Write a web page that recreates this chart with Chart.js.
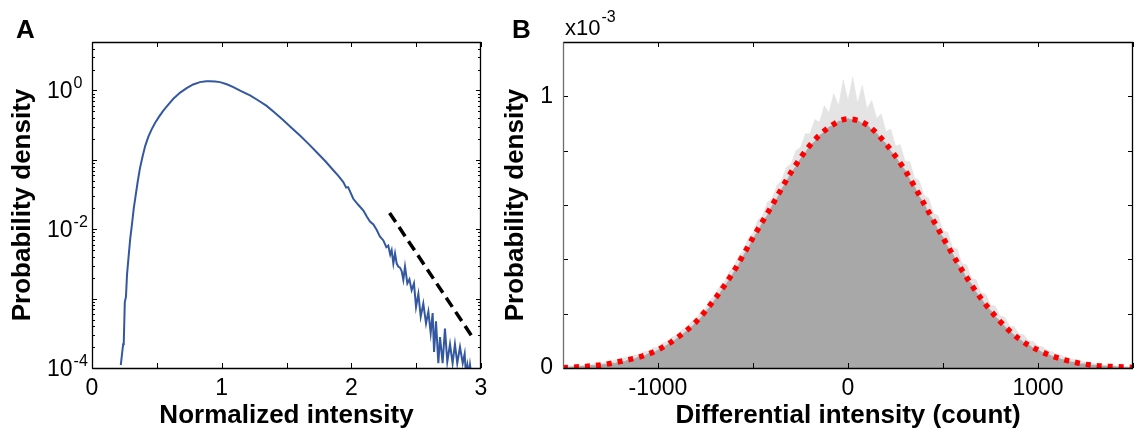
<!DOCTYPE html>
<html>
<head>
<meta charset="utf-8">
<script src="https://cdn.jsdelivr.net/npm/chart.js@4.4.1/dist/chart.umd.min.js"></script>
<style>
  html, body { margin: 0; padding: 0; background: #fff; }
  #wrap { position: relative; width: 1140px; height: 437px; overflow: hidden; }
  #wa { position: absolute; left: 0; top: 0; width: 500px; height: 437px; }
  #wb { position: absolute; left: 500px; top: 0; width: 640px; height: 437px; }
</style>
</head>
<body>
<div id="wrap">
  <div id="wa"><canvas id="ca" width="500" height="437"></canvas></div>
  <div id="wb"><canvas id="cb" width="640" height="437"></canvas></div>
</div>
<script>
// ---------------- Panel A data ----------------
const intensityX = [0.222,0.240,0.245,0.253,0.262,0.270,0.282,0.295,0.308,0.322,0.336,0.352,0.370,0.390,0.410,0.434,0.460,0.486,0.520,0.550,0.590,0.627,0.680,0.730,0.780,0.833,0.880,0.910,0.950,0.987,1.040,1.090,1.150,1.219,1.280,1.347,1.410,1.476,1.540,1.604,1.670,1.733,1.800,1.861,1.900,1.938,1.960,1.975,2.015,2.050,2.093,2.120,2.144,2.170,2.195,2.220,2.247,2.270,2.285,2.300,2.311,2.324,2.337,2.350,2.362,2.375,2.388,2.401,2.414,2.432,2.448,2.465,2.483,2.499,2.517,2.535,2.555,2.576,2.594,2.612,2.627,2.638,2.653,2.671,2.684,2.704,2.722,2.740,2.761,2.781,2.799,2.817,2.838,2.859,2.874,2.884,2.895,2.905,2.915,2.925];
const densityA = [1.1e-4,2.2e-4,2.3e-4,8.9e-4,1.07e-3,2.2e-3,4.0e-3,7.4e-3,0.0117,0.020,0.030,0.048,0.076,0.112,0.158,0.214,0.275,0.339,0.427,0.513,0.631,0.759,0.933,1.08,1.22,1.32,1.36,1.36,1.35,1.32,1.23,1.12,0.977,0.85,0.724,0.60,0.479,0.372,0.288,0.224,0.170,0.129,0.0955,0.0708,0.0589,0.0479,0.0398,0.0405,0.0275,0.0229,0.0186,0.0151,0.0129,0.0117,0.0098,0.0079,0.0069,0.0055,0.0058,0.0043,0.0050,0.0032,0.0045,0.0032,0.0029,0.0028,0.0025,0.00186,0.0029,0.00166,0.0019,0.00132,0.00166,0.00076,0.00117,0.00055,0.00085,0.00044,0.00065,0.00032,0.00062,0.00017,0.00047,0.000117,0.00028,0.000117,0.00037,0.000123,0.00022,0.000117,0.00022,0.000117,0.0002,0.000117,0.00016,0.00008,0.00011,0.00008,0.000112,0.00008];
const slopeX = [2.295, 2.938];
const slopeY = [0.0172, 2.72e-4];
const xTicksA = [0, 0.5, 1, 1.5, 2, 2.5, 3];
const xLabelsA = ['0', '', '1', '', '2', '', '3'];
const yLabelExpA = [-4, -2, 0];

// ---------------- Panel B data (units of 1e-3) ----------------
const binStart = -1500, binStep = 25;
const histB = [0.003,0.002,0.004,0.003,0.006,0.005,0.009,0.008,0.012,0.013,0.018,0.017,0.025,0.024,0.032,0.033,0.041,0.043,0.053,0.056,0.066,0.074,0.086,0.095,0.109,0.121,0.136,0.150,0.168,0.184,0.207,0.226,0.252,0.274,0.302,0.325,0.354,0.380,0.414,0.441,0.476,0.503,0.536,0.561,0.596,0.622,0.658,0.684,0.718,0.741,0.770,0.792,0.819,0.834,0.856,0.868,0.887,0.893,0.908,0.910,0.918,0.912,0.911,0.900,0.896,0.876,0.865,0.841,0.826,0.798,0.779,0.749,0.729,0.693,0.668,0.630,0.606,0.568,0.543,0.505,0.481,0.445,0.421,0.385,0.361,0.329,0.309,0.278,0.257,0.230,0.213,0.189,0.173,0.152,0.138,0.120,0.108,0.094,0.086,0.073,0.067,0.056,0.052,0.042,0.039,0.031,0.029,0.022,0.021,0.015,0.015,0.010,0.010,0.007,0.007,0.005,0.005,0.003,0.003,0.002,0.002];
const histFuzzB = [0.006,0.010,0.006,0.012,0.009,0.015,0.012,0.020,0.016,0.024,0.022,0.030,0.030,0.040,0.038,0.048,0.048,0.060,0.062,0.075,0.076,0.093,0.096,0.115,0.120,0.142,0.148,0.172,0.180,0.208,0.220,0.252,0.266,0.302,0.318,0.356,0.372,0.414,0.432,0.478,0.496,0.545,0.560,0.610,0.622,0.672,0.690,0.738,0.752,0.800,0.812,0.862,0.862,0.915,0.905,0.965,0.940,1.010,0.965,1.060,0.985,1.070,0.975,1.040,0.955,0.985,0.920,0.935,0.870,0.880,0.818,0.822,0.762,0.760,0.700,0.690,0.636,0.625,0.570,0.560,0.505,0.500,0.445,0.438,0.385,0.380,0.330,0.325,0.278,0.272,0.232,0.228,0.192,0.188,0.155,0.152,0.124,0.122,0.100,0.098,0.080,0.078,0.064,0.060,0.050,0.046,0.038,0.034,0.030,0.026,0.022,0.019,0.016,0.013,0.012,0.010,0.009,0.007,0.006,0.005,0.004];
const fitX = [-1500,-1400,-1300,-1200,-1100,-1000,-900,-800,-700,-600,-500,-400,-300,-200,-100,0,100,200,300,400,500,600,700,800,900,1000,1100,1200,1300,1400,1500];
const fitY = [0.001,0.005,0.011,0.024,0.040,0.067,0.111,0.170,0.255,0.357,0.480,0.598,0.720,0.820,0.886,0.917,0.895,0.825,0.728,0.605,0.480,0.360,0.256,0.172,0.107,0.066,0.038,0.020,0.009,0.005,0.002];
const xLabelsB = {'-1000': '-1000', '0': '0', '1000': '1000'};
const yLabelsB = {'0': '0', '1': '1'};

const FAM = '"Liberation Sans", Arial, Helvetica, sans-serif';

function binX(i) { return binStart + i * binStep; }

// Inward ticks + box frame, plus extra texts
const frameTicks = {
  id: 'frameTicks',
  afterDatasetsDraw(chart, args, o) {
    const {ctx, chartArea: a, scales} = chart;
    const xs = scales.x, ys = scales.y;
    ctx.save();
    ctx.lineWidth = 1;
    ctx.strokeStyle = '#000';
    const xv = o.xTicks || xs.ticks.map(t => t.value);
    xv.forEach(v => {
      const px = Math.round(xs.getPixelForValue(v)) + 0.5;
      ctx.beginPath();
      ctx.moveTo(px, a.bottom); ctx.lineTo(px, a.bottom - o.len);
      ctx.moveTo(px, a.top); ctx.lineTo(px, a.top + o.len);
      ctx.stroke();
    });
    const yv = o.yTicks || ys.ticks.map(t => ({v: t.value, major: true}));
    yv.forEach(t => {
      const py = Math.round(ys.getPixelForValue(t.v)) + 0.5;
      const L = t.major ? o.len : o.minorLen;
      ctx.beginPath();
      ctx.moveTo(a.left, py); ctx.lineTo(a.left + L, py);
      ctx.moveTo(a.right, py); ctx.lineTo(a.right - L, py);
      ctx.stroke();
    });
    // frame
    const l = Math.round(a.left) + 0.5, r = Math.round(a.right) - 0.5;
    const t = Math.round(a.top) + 0.5, b = Math.round(a.bottom) + 0.5;
    ctx.lineWidth = 1.3;
    ctx.strokeStyle = '#000';
    ctx.beginPath(); ctx.moveTo(l, t); ctx.lineTo(r, t); ctx.lineTo(r, b); ctx.lineTo(l, b); ctx.stroke();
    ctx.strokeStyle = o.leftColor || '#000';
    ctx.beginPath(); ctx.moveTo(l, t); ctx.lineTo(l, b); ctx.stroke();
    ctx.restore();
  },
  afterDraw(chart, args, o) {
    const {ctx} = chart;
    ctx.save();
    ctx.fillStyle = '#000';
    ctx.textBaseline = 'alphabetic';
    ctx.textAlign = 'left';
    if (o.panel) {
      ctx.font = 'bold 26px ' + FAM;
      ctx.fillText(o.panel.text, o.panel.x, o.panel.y);
    }
    if (o.logLabels) {
      const ys = chart.scales.y;
      o.logLabels.forEach(e => {
        const py = ys.getPixelForValue(Math.pow(10, e));
        ctx.font = '23px ' + FAM;
        ctx.fillText('10', o.logLabelX, py + 8);
        const w = ctx.measureText('10').width;
        ctx.font = '16px ' + FAM;
        ctx.fillText(String(e), o.logLabelX + w + 1, py - 2);
      });
    }
    if (o.multiplier) {
      ctx.font = '22px ' + FAM;
      ctx.fillText(o.multiplier.base, o.multiplier.x, o.multiplier.y);
      const w = ctx.measureText(o.multiplier.base).width;
      ctx.font = '16px ' + FAM;
      ctx.fillText(o.multiplier.exp, o.multiplier.x + w + 1, o.multiplier.y - 13);
    }
    ctx.restore();
  }
};

// minor/major log ticks for panel A
const logTicksA = [];
for (let e = -4; e <= 0; e++) {
  for (let m = 1; m <= 9; m++) {
    const v = m * Math.pow(10, e);
    if (v <= 5) logTicksA.push({v, major: m === 1});
  }
}

new Chart(document.getElementById('ca'), {
  type: 'line',
  data: {
    datasets: [
      {
        label: 'Normalized intensity PDF',
        data: intensityX.map((x, i) => ({x, y: densityA[i]})),
        borderColor: '#3458a0', borderWidth: 2, pointRadius: 0, tension: 0, fill: false
      },
      {
        label: 'Slope',
        data: slopeX.map((x, i) => ({x, y: slopeY[i]})),
        borderColor: '#000', borderWidth: 3.5, borderDash: [11, 6], borderCapStyle: 'butt',
        pointRadius: 0, fill: false
      }
    ]
  },
  options: {
    responsive: false, animation: false, devicePixelRatio: 1,
    layout: {padding: {left: 0, right: 19, top: 42, bottom: 0}},
    plugins: {
      legend: {display: false}, tooltip: {enabled: false},
      frameTicks: {
        len: 5, minorLen: 3, xTicks: xTicksA, yTicks: logTicksA,
        logLabels: yLabelExpA, logLabelX: 47,
        panel: {text: 'A', x: 16, y: 38}
      }
    },
    scales: {
      x: {
        type: 'linear', min: 0, max: 3,
        afterFit(s) { s.height = 69; },
        afterBuildTicks(s) { s.ticks = xTicksA.map(v => ({value: v})); },
        grid: {display: false, drawTicks: false}, border: {display: false},
        ticks: {
          autoSkip: false, maxRotation: 0, padding: 7, color: '#000',
          font: {size: 23, family: FAM, lineHeight: 1.2},
          callback: (v) => xLabelsA[xTicksA.indexOf(v)] ?? ''
        },
        title: {display: true, text: 'Normalized intensity', color: '#000',
          font: {size: 26, weight: 'bold', family: FAM, lineHeight: 1}, padding: {top: 0, bottom: 8}}
      },
      y: {
        type: 'logarithmic', min: 1e-4, max: 5,
        afterFit(s) { s.width = 92; },
        grid: {display: false, drawTicks: false}, border: {display: false},
        ticks: {autoSkip: false, callback: () => ''},
        title: {display: true, text: 'Probability density', color: '#000',
          font: {size: 26, weight: 'bold', family: FAM, lineHeight: 1}, padding: {top: 10, bottom: 0}}
      }
    }
  },
  plugins: [frameTicks]
});

new Chart(document.getElementById('cb'), {
  type: 'line',
  data: {
    datasets: [
      {
        label: 'Histogram fuzz',
        data: histFuzzB.map((y, i) => ({x: binX(i), y})),
        borderColor: 'rgba(225,225,225,0.8)', borderWidth: 0.6, backgroundColor: 'rgba(210,210,210,0.6)',
        pointRadius: 0, tension: 0, fill: 'origin', order: 3
      },
      {
        label: 'Histogram',
        data: histB.map((y, i) => ({x: binX(i), y})),
        borderColor: '#a8a8a8', borderWidth: 0.8, backgroundColor: '#a8a8a8',
        pointRadius: 0, tension: 0, fill: 'origin', order: 2
      },
      {
        label: 'Fit',
        data: fitX.map((x, i) => ({x, y: fitY[i]})),
        borderColor: '#ff0000', borderWidth: 5.5, borderDash: [5, 6], borderCapStyle: 'butt',
        pointRadius: 0, cubicInterpolationMode: 'monotone', fill: false, order: 1
      }
    ]
  },
  options: {
    responsive: false, animation: false, devicePixelRatio: 1,
    layout: {padding: {left: 0, right: 1, top: 42, bottom: 0}},
    plugins: {
      legend: {display: false}, tooltip: {enabled: false}, filler: {propagate: false},
      frameTicks: {
        len: 5, minorLen: 5, leftColor: '#6e6e6e',
        panel: {text: 'B', x: 12, y: 38},
        multiplier: {base: 'x10', exp: '-3', x: 65, y: 35}
      }
    },
    scales: {
      x: {
        type: 'linear', min: -1500, max: 1500,
        afterFit(s) { s.height = 69; },
        grid: {display: false, drawTicks: false}, border: {display: false},
        ticks: {
          stepSize: 500, autoSkip: false, maxRotation: 0, padding: 7, color: '#000',
          font: {size: 23, family: FAM, lineHeight: 1.2},
          callback: (v) => xLabelsB[String(Math.round(v))] ?? ''
        },
        title: {display: true, text: 'Differential intensity (count)', color: '#000',
          font: {size: 26, weight: 'bold', family: FAM, lineHeight: 1}, padding: {top: 0, bottom: 8}}
      },
      y: {
        type: 'linear', min: 0, max: 1.2,
        afterFit(s) { s.width = 63; },
        grid: {display: false, drawTicks: false}, border: {display: false},
        ticks: {
          stepSize: 0.2, autoSkip: false, padding: 10, color: '#000',
          font: {size: 23, family: FAM, lineHeight: 1.2},
          callback: (v) => yLabelsB[String(Math.round(v * 1000) / 1000)] ?? ''
        },
        title: {display: true, text: 'Probability density', color: '#000',
          font: {size: 26, weight: 'bold', family: FAM, lineHeight: 1}, padding: {top: 3, bottom: 0}}
      }
    }
  },
  plugins: [frameTicks]
});
</script>
</body>
</html>
